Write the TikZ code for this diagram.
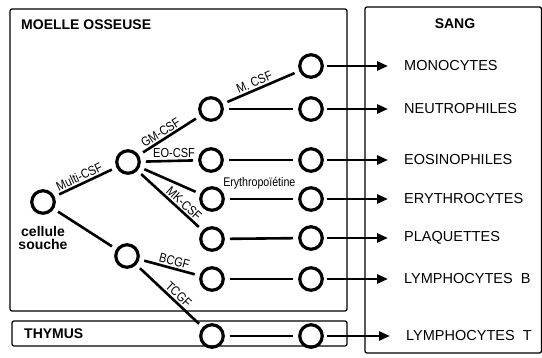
\documentclass[tikz,border=0pt]{standalone}
\usepackage{fontspec}
\setmainfont{Liberation Sans}
\newfontfamily\narrowfont[FakeStretch=0.85]{Liberation Sans}
\usetikzlibrary{arrows.meta}

\tikzset{
  cell/.style={circle, draw, line width=3.2pt, minimum size=22.5pt, inner sep=0pt},
  link/.style={line width=2.6pt, shorten <=5pt, shorten >=5pt},
  outlet/.style={line width=2.6pt, -{Triangle[length=11pt,width=9pt]}, shorten <=3pt, shorten >=16pt},
  organ/.style={line width=1.3pt, rounded corners=2pt},
  title/.style={font=\bfseries\fontsize{14}{14}\selectfont, inner sep=0pt},
  celltype/.style={font=\fontsize{14.5}{14.5}\selectfont, anchor=west, inner sep=0pt},
  factor/.style={font=\narrowfont\fontsize{13}{13}\selectfont, inner sep=1.5pt}
}

\begin{document}
\begin{tikzpicture}[x=1pt, y=-1pt]
	\useasboundingbox (0,0) rectangle (542,358);
	
	% organs
	\draw[organ] (10,9) rectangle (347,311);
	\draw[organ] (12,321) rectangle (347,346);
	\draw[organ] (365,7) rectangle (541.5,353);
	\node[title, anchor=west] (moelle) at (21,25) {MOELLE OSSEUSE};
	\node[title] (sang) at (455,24) {SANG};
	\node[title, anchor=west] (thymus) at (24,334) {THYMUS};
	
	% cells in the marrow
	\node[cell] (stem) at (43,202) {};
	\node[title, align=center, below=11pt] (stemlab) at (stem.south) {cellule\\[-1pt]souche};
	\node[cell] (multi) at (128,162) {};
	\node[cell] (lymph) at (127,256) {};
	
	\node[cell] (gm) at (211,109) {};
	\node[cell] (eo) at (211,160) {};
	\node[cell] (ery) at (212,199) {};
	\node[cell] (mk) at (212,239) {};
	\node[cell] (lb) at (212,279) {};
	\node[cell] (lt) at (212,336) {};
	
	\node[cell] (mono) at (311,66) {};
	\node[cell] (neut) at (311,109) {};
	\node[cell] (eos) at (311,160) {};
	\node[cell] (erya) at (311,199) {};
	\node[cell] (plaq) at (311,238) {};
	\node[cell] (lyb) at (311,279) {};
	\node[cell] (lyt) at (311,336) {};
	
	% cells in the blood
	\node[celltype] (monolab) at (404,66) {MONOCYTES};
	\node[celltype] (neutlab) at (404,109) {NEUTROPHILES};
	\node[celltype] (eoslab) at (404,160) {EOSINOPHILES};
	\node[celltype] (erylab) at (404,199) {ERYTHROCYTES};
	\node[celltype] (plaqlab) at (404,238) {PLAQUETTES};
	\node[celltype] (lyblab) at (404,279) {LYMPHOCYTES\ \ B};
	\node[celltype] (lytlab) at (406,336) {LYMPHOCYTES\ \ T};
	
	% growth factors
	\draw[link] (stem) -- node[factor, sloped, above, pos=0.45] {Multi-CSF} (multi);
	\draw[link] (stem) -- (lymph);
	\draw[link] (multi) -- node[factor, sloped, above, pos=0.42] {GM-CSF} (gm);
	\draw[link] (multi) -- node[factor, above, pos=0.58] {EO-CSF} (eo);
	\draw[link] (multi) -- (ery);
	\draw[link] (multi) -- node[factor, sloped, above, pos=0.64] {MK-CSF} (mk);
	\draw[link] (lymph) -- node[factor, sloped, above, pos=0.55] {BCGF} (lb);
	\draw[link] (lymph) -- node[factor, sloped, above, pos=0.56] {TCGF} (lt);
	
	\draw[link] (gm) -- node[factor, sloped, above, pos=0.45] {M. CSF} (mono);
	\draw[link] (gm) -- (neut);
	\draw[link] (eo) -- (eos);
	\draw[link] (ery) -- node[factor, above=7pt, pos=0.47, font=\narrowfont\fontsize{12.5}{12.5}\selectfont] {Erythropoïétine} (erya);
	\draw[link] (mk) -- (plaq);
	\draw[link] (lb) -- (lyb);
	\draw[link] (lt) -- (lyt);
	
	\draw[outlet] (mono) -- (monolab);
	\draw[outlet] (neut) -- (neutlab);
	\draw[outlet] (eos) -- (eoslab);
	\draw[outlet] (erya) -- (erylab);
	\draw[outlet] (plaq) -- (plaqlab);
	\draw[outlet] (lyb) -- (lyblab);
	\draw[outlet] (lyt) -- (lytlab);
\end{tikzpicture}
\end{document}
